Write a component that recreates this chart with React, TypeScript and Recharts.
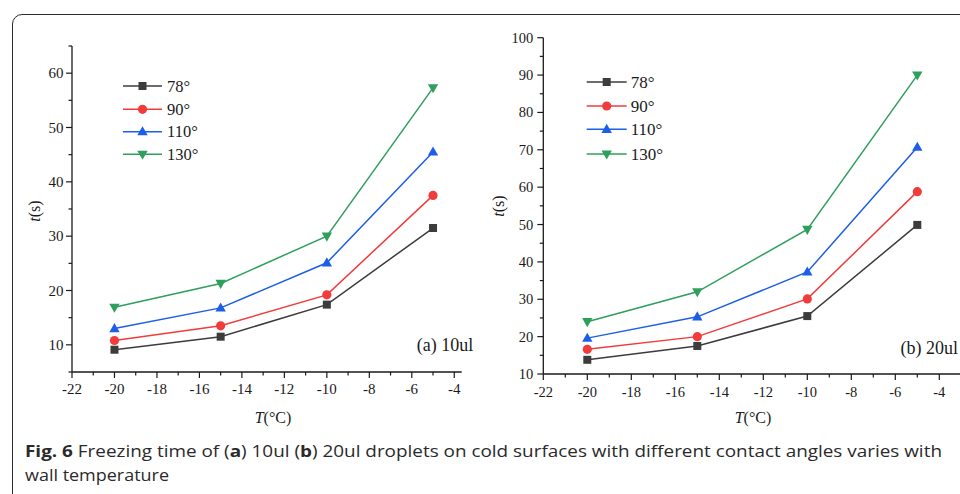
import React from 'react';
import { LineChart, Line, XAxis, YAxis } from 'recharts';

// wall temperature (°C) and contact angles
const temps = [-20, -15, -10, -5];
const angleNames = ['78°', '90°', '110°', '130°'];

// (a) 10ul freezing time, s
const t10_78 = [9.1, 11.5, 17.4, 31.5];
const t10_90 = [10.8, 13.5, 19.2, 37.5];
const t10_110 = [13.0, 16.8, 25.1, 45.5];
const t10_130 = [16.9, 21.3, 30.0, 57.3];

// (b) 20ul freezing time, s
const t20_78 = [13.8, 17.5, 25.5, 49.9];
const t20_90 = [16.6, 20.0, 30.1, 58.8];
const t20_110 = [19.6, 25.3, 37.3, 70.7];
const t20_130 = [24.0, 32.0, 48.7, 90.0];

// tick labels
const xMajor = [-22, -20, -18, -16, -14, -12, -10, -8, -6, -4];
const xMinor = [-21, -19, -17, -15, -13, -11, -9, -7, -5];
const yMajorA = [10, 20, 30, 40, 50, 60];
const yMinorA = [5, 15, 25, 35, 45, 55, 65];
const yMajorB = [10, 20, 30, 40, 50, 60, 70, 80, 90, 100];
const yMinorB = [15, 25, 35, 45, 55, 65, 75, 85, 95];

const COLORS = ['#3c3c3c', '#f23b3b', '#1c5fe6', '#2e9f5c'];
const SHAPES = ['square', 'circle', 'up', 'down'];
const KEYS = ['a78', 'a90', 'a110', 'a130'];
const SERIF = '"Liberation Serif", "Times New Roman", serif';
const INK = '#1a1a1a';

const buildRows = (series: number[][]) =>
  temps.map((T, i) => {
    const row: any = { T };
    series.forEach((s, k) => (row[KEYS[k]] = s[i]));
    return row;
  });

const dataA = buildRows([t10_78, t10_90, t10_110, t10_130]);
const dataB = buildRows([t20_78, t20_90, t20_110, t20_130]);

const Marker = ({ cx, cy, shape, color }: any) => {
  if (shape === 'square') return <rect x={cx - 4} y={cy - 4} width={8} height={8} fill={color} />;
  if (shape === 'circle') return <circle cx={cx} cy={cy} r={4.6} fill={color} />;
  if (shape === 'up')
    return <polygon points={`${cx},${cy - 5.5} ${cx + 5.2},${cy + 3.6} ${cx - 5.2},${cy + 3.6}`} fill={color} />;
  return <polygon points={`${cx},${cy + 5.5} ${cx + 5.2},${cy - 3.6} ${cx - 5.2},${cy - 3.6}`} fill={color} />;
};

const XTick = ({ x, y, payload, size, dy }: any) => {
  const v = payload.value;
  const major = xMajor.includes(v);
  return (
    <g>
      <line x1={x} y1={y} x2={x} y2={y + (major ? 6 : 3.5)} stroke={INK} strokeWidth={1.2} />
      {major && (
        <text x={x} y={y + dy} textAnchor="middle" style={{ fontFamily: SERIF, fontSize: size, fill: INK }}>
          {v}
        </text>
      )}
    </g>
  );
};

const YTick = ({ x, y, payload, majors, size, dx }: any) => {
  const v = payload.value;
  const major = majors.includes(v);
  return (
    <g>
      <line x1={x} y1={y} x2={x - (major ? 6 : 3.5)} y2={y} stroke={INK} strokeWidth={1.2} />
      {major && (
        <text x={x - dx} y={y + 5} textAnchor="end" style={{ fontFamily: SERIF, fontSize: size, fill: INK }}>
          {v}
        </text>
      )}
    </g>
  );
};

function Panel({ data, width, margin, xDomain, yDomain, yMajor, yMinor, size, xDy, yDx }: any) {
  return (
    <LineChart width={width} height={494} data={data} margin={margin}>
      <XAxis
        dataKey="T"
        type="number"
        domain={xDomain}
        ticks={[...xMajor, ...xMinor].sort((a, b) => a - b)}
        interval={0}
        height={30}
        tickSize={0}
        tickMargin={0}
        tickLine={false}
        axisLine={{ stroke: INK, strokeWidth: 1.3 }}
        tick={(p: any) => <XTick {...p} size={size} dy={xDy} />}
        allowDataOverflow
      />
      <YAxis
        type="number"
        domain={yDomain}
        ticks={[...yMajor, ...yMinor].sort((a, b) => a - b)}
        interval={0}
        width={60}
        tickSize={0}
        tickMargin={0}
        tickLine={false}
        axisLine={{ stroke: INK, strokeWidth: 1.3 }}
        tick={(p: any) => <YTick {...p} majors={yMajor} size={size} dx={yDx} />}
        allowDataOverflow
      />
      {KEYS.map((k, i) => (
        <Line
          key={k}
          type="linear"
          dataKey={k}
          name={angleNames[i]}
          stroke={COLORS[i]}
          strokeWidth={1.5}
          isAnimationActive={false}
          activeDot={false}
          dot={(p: any) => <Marker key={`${k}-${p.index}`} cx={p.cx} cy={p.cy} shape={SHAPES[i]} color={COLORS[i]} />}
        />
      ))}
    </LineChart>
  );
}

const LegendBox = ({ x0, x1, rowsY, textX, fontSize }: any) => (
  <g>
    {angleNames.map((name, i) => (
      <g key={name}>
        <line x1={x0} y1={rowsY[i]} x2={x1} y2={rowsY[i]} stroke={COLORS[i]} strokeWidth={1.5} />
        <Marker cx={(x0 + x1) / 2} cy={rowsY[i]} shape={SHAPES[i]} color={COLORS[i]} />
        <text x={textX} y={rowsY[i] + 5.5} fontSize={fontSize} fontFamily={SERIF} fill={INK}>
          {name}
        </text>
      </g>
    ))}
  </g>
);

export default function App() {
  return (
    <div style={{ position: 'fixed', left: 0, top: 0, width: 960, height: 494, overflow: 'hidden', background: '#fff' }}>
      <div
        style={{
          position: 'absolute',
          left: 12,
          top: 14,
          width: 1000,
          height: 600,
          border: '1.5px solid #2b2b2b',
          borderRadius: 10,
        }}
      />
      <div style={{ position: 'absolute', left: 0, top: 0 }}>
        <Panel
          data={dataA}
          width={480}
          margin={{ top: 46, right: 18.3, bottom: 92, left: 12 }}
          xDomain={[-22, -3.65]}
          yDomain={[5, 65]}
          yMajor={yMajorA}
          yMinor={yMinorA}
          size={15}
          xDy={22}
          yDx={8.5}
        />
      </div>
      <div style={{ position: 'absolute', left: 480, top: 0 }}>
        <Panel
          data={dataB}
          width={490}
          margin={{ top: 37.7, right: 8.7, bottom: 90, left: 3.3 }}
          xDomain={[-22, -3]}
          yDomain={[10, 100]}
          yMajor={yMajorB}
          yMinor={yMinorB}
          size={14.5}
          xDy={23}
          yDx={10}
        />
      </div>
      <svg width={960} height={494} style={{ position: 'absolute', left: 0, top: 0, pointerEvents: 'none' }}>
        <LegendBox x0={123} x1={162} rowsY={[86, 109.3, 131.7, 154.3]} textX={167} fontSize={16.5} />
        <LegendBox x0={586.7} x1={626.7} rowsY={[82, 106, 129.3, 154]} textX={630.7} fontSize={17} />

        <text x={416.7} y={351} fontSize={18} fontFamily={SERIF} fill={INK}>(a) 10ul</text>
        <text x={900.5} y={354} fontSize={18} fontFamily={SERIF} fill={INK}>(b) 20ul</text>

        <text x={273} y={423} textAnchor="middle" fontSize={16} fontFamily={SERIF} fill={INK}>
          <tspan fontStyle="italic">T</tspan>(°C)
        </text>
        <text x={753} y={423} textAnchor="middle" fontSize={16} fontFamily={SERIF} fill={INK}>
          <tspan fontStyle="italic">T</tspan>(°C)
        </text>
        <text transform="translate(40,211) rotate(-90)" textAnchor="middle" fontSize={16} fontFamily={SERIF} fill={INK}>
          <tspan fontStyle="italic">t</tspan>(s)
        </text>
        <text transform="translate(504,206) rotate(-90)" textAnchor="middle" fontSize={16} fontFamily={SERIF} fill={INK}>
          <tspan fontStyle="italic">t</tspan>(s)
        </text>

        <text x={25} y={457} fontSize={15.5} fontFamily='"Open Sans", sans-serif' fill="#2a2a2a" textLength={917} lengthAdjust="spacingAndGlyphs">
          <tspan fontWeight="bold">Fig. 6</tspan> Freezing time of (<tspan fontWeight="bold">a</tspan>) 10ul (<tspan fontWeight="bold">b</tspan>) 20ul droplets on cold surfaces with different contact angles varies with
        </text>
        <text x={25} y={481} fontSize={15.5} fontFamily='"Open Sans", sans-serif' fill="#2a2a2a" textLength={144} lengthAdjust="spacingAndGlyphs">
          wall temperature
        </text>
      </svg>
    </div>
  );
}
